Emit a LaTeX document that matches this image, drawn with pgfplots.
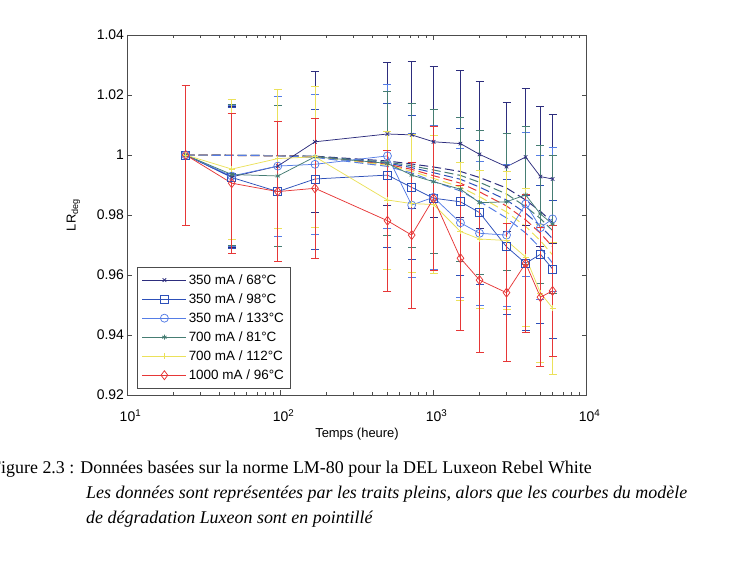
\documentclass[border=0pt]{standalone}
\usepackage{fontspec}
\setmainfont{Liberation Sans}
\newfontfamily\capfont{Liberation Serif}
\usepackage{pgfplots}
\usepackage{pgfplotstable}
\pgfplotsset{compat=1.18}

\definecolor{cNavy}{RGB}{45,45,125}
\definecolor{cSq}{RGB}{45,80,185}
\definecolor{cCirc}{RGB}{85,125,230}
\definecolor{cTeal}{RGB}{70,125,115}
\definecolor{cYel}{RGB}{235,225,90}
\definecolor{cRed}{RGB}{230,55,55}

% Measured relative luminous flux (t in hours, value, +/- spread)
\pgfplotstableread{
t v e
24 1.0000 0
48 0.9927 0.0235
96 0.9963 0.0234
168 1.0044 0.0234
500 1.0070 0.0239
720 1.0067 0.0244
1000 1.0044 0.0253
1500 1.0038 0.0245
2000 1.0002 0.0245
3000 0.9961 0.0215
4000 0.9993 0.0229
5000 0.9928 0.0233
6000 0.9920 0.0216
}\seriesA
\pgfplotstableread{
t v e
24 1.0000 0
48 0.9925 0.0235
96 0.9878 0.0234
168 0.9920 0.0233
500 0.9933 0.0240
720 0.9892 0.0240
1000 0.9856 0.0240
1500 0.9844 0.0245
2000 0.9808 0.0240
3000 0.9694 0.0225
4000 0.9639 0.0225
5000 0.9669 0.0230
6000 0.9620 0.0230
}\seriesB
\pgfplotstableread{
t v e
24 1.0000 0
48 0.9930 0.0235
96 0.9963 0.0234
168 0.9969 0.0233
500 0.9997 0.0240
720 0.9833 0.0240
1000 0.9859 0.0240
1500 0.9774 0.0249
2000 0.9739 0.0240
3000 0.9733 0.0236
4000 0.9837 0.0240
5000 0.9758 0.0240
6000 0.9787 0.0240
}\seriesC
\pgfplotstableread{
t v e
24 1.0000 0
48 0.9935 0.0235
96 0.9930 0.0236
168 0.9994 0.0234
500 0.9972 0.0240
720 0.9933 0.0240
1000 0.9911 0.0240
1500 0.9886 0.0240
2000 0.9841 0.0240
3000 0.9844 0.0227
4000 0.9867 0.0230
5000 0.9803 0.0230
6000 0.9770 0.0230
}\seriesD
\pgfplotstableread{
t v e
24 1.0000 0
48 0.9953 0.0234
96 0.9988 0.0232
168 0.9994 0.0234
500 0.9850 0.0230
720 0.9838 0.0230
1000 0.9835 0.0230
1500 0.9745 0.0230
2000 0.9720 0.0230
3000 0.9715 0.0230
4000 0.9660 0.0230
5000 0.9540 0.0230
6000 0.9490 0.0220
}\seriesE
\pgfplotstableread{
t v e
24 1.0000 0.0233
48 0.9906 0.0234
96 0.9878 0.0233
168 0.9889 0.0232
500 0.9781 0.0234
720 0.9733 0.0243
1000 0.9855 0.0240
1500 0.9656 0.0242
2000 0.9583 0.0240
3000 0.9541 0.0230
4000 0.9639 0.0230
5000 0.9526 0.0232
6000 0.9547 0.0217
}\seriesF

% Luxeon degradation model curves (t, LR)
\pgfplotstableread{
t m1 m2 m3 m4 m5 m6
24 1.0000 1.0000 1.0000 1.0000 1.0000 1.0000
96 0.9998 0.9998 0.9998 0.9997 0.9997 0.9997
168 0.9996 0.9995 0.9994 0.9994 0.9993 0.9992
500 0.9980 0.9976 0.9973 0.9969 0.9966 0.9962
720 0.9970 0.9964 0.9958 0.9952 0.9946 0.9940
1000 0.9960 0.9950 0.9941 0.9931 0.9922 0.9912
1500 0.9945 0.9932 0.9919 0.9906 0.9893 0.9880
2000 0.9925 0.9909 0.9893 0.9877 0.9861 0.9845
3000 0.9890 0.9870 0.9850 0.9830 0.9810 0.9790
4000 0.9850 0.9828 0.9806 0.9784 0.9762 0.9740
5000 0.9812 0.9788 0.9763 0.9739 0.9714 0.9690
6000 0.9775 0.9748 0.9721 0.9694 0.9667 0.9640
}\model

\pgfplotsset{
  databar/.style={line width=0.75bp, mark options={solid, fill=none, line width=0.75bp},
    error bars/y dir=both, error bars/y explicit,
    error bars/error bar style={line width=0.7bp, solid},
    error bars/error mark options={rotate=90, mark size=4bp, line width=0.7bp}},
  modelline/.style={line width=1bp, dash pattern=on 9bp off 4bp, forget plot},
}

\begin{document}
\begin{tikzpicture}[x=1bp,y=1bp]
\path[use as bounding box] (0,0) rectangle (737,588);
\begin{axis}[
  at={(127.5bp,193bp)}, anchor=south west,
  width=459bp, height=360bp, scale only axis,
  xmode=log, xmin=10, xmax=10000, ymin=0.92, ymax=1.04,
  xtick={10,100,1000,10000},
  xticklabels={10\rlap{\textsuperscript{1}},10\rlap{\textsuperscript{2}},10\rlap{\textsuperscript{3}},10\rlap{\textsuperscript{4}}},
  ytick={0.92,0.94,0.96,0.98,1,1.02,1.04},
  yticklabels={0.92,0.94,0.96,0.98,1,1.02,1.04},
  tick label style={font=\fontsize{14}{16}\selectfont},
  xticklabel shift=11bp,
  axis line style={black!70}, every tick/.style={black!70},
  major tick length=5bp, minor tick length=3bp,
  xlabel={Temps (heure)}, ylabel={LR\textsubscript{deg}},
  label style={font=\fontsize{13}{15}\selectfont},
  xlabel shift=0bp, ylabel shift=10bp,
  legend cell align=left,
  legend style={at={(rel axis cs:0.0214,0.3547)}, anchor=north west,
    draw=black!70, font=\fontsize{13.5}{15}\selectfont,
    row sep=3.8bp, inner xsep=4.5bp, inner ysep=5bp},
  legend image code/.code={\draw[mark repeat=2,mark phase=2,#1]
    plot coordinates {(0bp,0bp) (22bp,0bp) (44bp,0bp)};},
]
% model curves
\addplot[cNavy, modelline] table[x=t,y=m1] {\model};
\addplot[cTeal, modelline] table[x=t,y=m2] {\model};
\addplot[cSq, modelline] table[x=t,y=m3] {\model};
\addplot[cRed, modelline] table[x=t,y=m4] {\model};
\addplot[cYel, modelline] table[x=t,y=m5] {\model};
\addplot[cCirc, modelline] table[x=t,y=m6] {\model};
% measured data
\addplot[cNavy, databar, mark=x, mark size=2.5bp] table[x=t,y=v,y error=e] {\seriesA};
\addplot[cSq, databar, mark=square, mark size=4bp] table[x=t,y=v,y error=e] {\seriesB};
\addplot[cCirc, databar, mark=o, mark size=4bp] table[x=t,y=v,y error=e] {\seriesC};
\addplot[cTeal, databar, mark=asterisk, mark size=2.5bp] table[x=t,y=v,y error=e] {\seriesD};
\addplot[cYel, databar, mark=+, mark size=3bp] table[x=t,y=v,y error=e] {\seriesE};
\addplot[cRed, databar, mark=diamond, mark size=4.5bp] table[x=t,y=v,y error=e] {\seriesF};
\legend{350 mA / 68°C, 350 mA / 98°C, 350 mA / 133°C, 700 mA / 81°C, 700 mA / 112°C, 1000 mA / 96°C}
\end{axis}
\capfont\fontsize{18}{20}\selectfont
\node[anchor=base west, inner sep=0] at (-9,114) {Figure 2.3 : Données basées sur la norme LM-80 pour la DEL Luxeon Rebel White};
\node[anchor=base west, inner sep=0] at (86,89) {\itshape Les données sont représentées par les traits pleins, alors que les courbes du modèle};
\node[anchor=base west, inner sep=0] at (86,64) {\itshape de dégradation Luxeon sont en pointillé};
\end{tikzpicture}
\end{document}
